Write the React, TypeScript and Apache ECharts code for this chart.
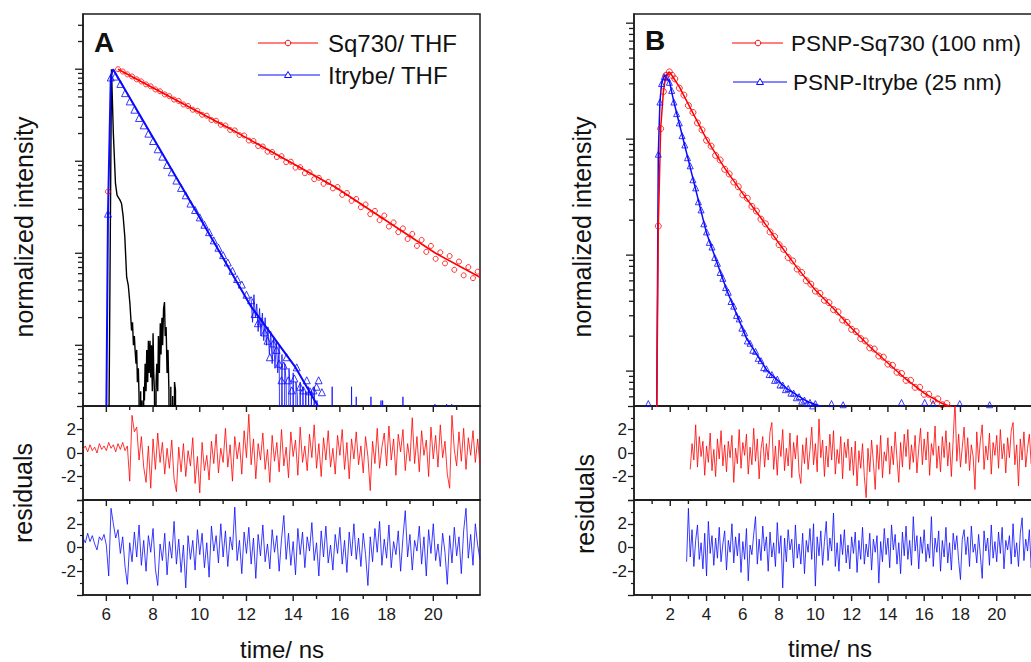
import React, { useEffect, useRef } from "react";
import * as echarts from "echarts";

// ================= DATA (intensities stored as log10 values) =================
// ---- Panel A : dyes in THF ----
const sq730ThfEarlyLog = [[6.07, -1.33]];
const sq730ThfStart = 6.5;
const sq730ThfStep = 0.2;
const sq730ThfLog = [
  0.0, -0.025, -0.056, -0.079, -0.11, -0.133, -0.165, -0.186, -0.22, -0.24,
  -0.274, -0.293, -0.33, -0.345, -0.383, -0.4, -0.44, -0.452, -0.495, -0.505,
  -0.552, -0.56, -0.604, -0.612, -0.66, -0.665, -0.715, -0.72, -0.775, -0.78,
  -0.835, -0.84, -0.895, -0.9, -0.955, -0.945, -1.01, -1.005, -1.07, -1.065,
  -1.13, -1.12, -1.195, -1.18, -1.245, -1.225, -1.295, -1.28, -1.365, -1.345,
  -1.43, -1.41, -1.5, -1.47, -1.575, -1.54, -1.64, -1.59, -1.71, -1.665,
  -1.77, -1.73, -1.845, -1.79, -1.92, -1.855, -1.985, -1.92, -2.06, -1.99,
  -2.11, -2.03, -2.18, -2.09, -2.24, -2.15, -2.27, -2.2,
];
const sq730ThfFitLog = [[6.5, 0], [11.5, -0.675], [15.8, -1.28], [20.1, -2.0], [22, -2.26]];

const itrybeThfEarlyLog = [[6.07, -1.57], [6.19, -0.09], [6.37, -0.08]];
const itrybeThfStart = 6.6;
const itrybeThfStep = 0.2;
const itrybeThfLog = [
  -0.16, -0.26, -0.35, -0.44, -0.53, -0.61, -0.7, -0.78, -0.87, -0.95,
  -1.04, -1.12, -1.21, -1.29, -1.37, -1.46, -1.53, -1.61, -1.69, -1.77,
  -1.86, -1.94, -2.02, -2.1, -2.19, -2.28, -2.34, -2.45,
];
const itrybeThfTailLog = [
  [12.2, -2.51], [12.35, -2.66], [12.49, -2.76], [12.63, -2.74], [12.78, -2.86], [12.9, -2.95],
  [13.0, -3.13], [13.15, -2.98], [13.29, -3.05], [13.4, -3.2], [13.5, -3.38], [13.6, -3.22],
  [13.72, -3.13], [13.79, -3.38], [13.94, -3.49], [14.05, -3.36], [14.15, -3.24], [14.3, -3.45],
  [14.44, -3.49], [14.58, -3.38], [14.72, -3.5], [14.87, -3.49], [15.0, -3.45], [15.09, -3.38], [15.23, -3.51],
];
const itrybeThfFitLog = [[6.0, -3.7], [6.07, -1.57], [6.19, -0.08], [6.29, 0], [10.04, -1.63], [12.2, -2.58], [14.1, -3.24], [15.15, -3.7]];
// raw decay tail (-6 = no counts in channel)
const itrybeThfRawLog = [
  [12.2, -2.5], [12.26, -2.75], [12.32, -2.45], [12.38, -2.7], [12.44, -2.55], [12.5, -2.85], [12.56, -2.6],
  [12.62, -2.9], [12.68, -2.65], [12.74, -2.95], [12.8, -2.7], [12.86, -3.0], [12.92, -2.8], [12.98, -3.1],
  [13.04, -2.85], [13.1, -3.2], [13.16, -2.9], [13.22, -3.25], [13.28, -2.95], [13.34, -3.3], [13.4, -3.0],
  [13.46, -6], [13.52, -3.1], [13.58, -6], [13.64, -3.2], [13.7, -3.4], [13.76, -6], [13.82, -3.25],
  [13.88, -3.5], [13.94, -6], [14.0, -3.3], [14.06, -6], [14.12, -3.4], [14.18, -3.55], [14.24, -6],
  [14.3, -3.4], [14.36, -6], [14.42, -3.45], [14.48, -6], [14.54, -3.5], [14.6, -6], [14.66, -3.45],
  [14.72, -6], [14.78, -3.5], [14.84, -6], [14.9, -3.45], [14.96, -6], [15.02, -3.6], [15.08, -6],
  [15.6, -6], [15.67, -3.45], [15.74, -6], [16.43, -6], [16.5, -3.45], [16.57, -6], [16.63, -6],
  [16.7, -3.56], [16.77, -6], [17.26, -6], [17.33, -3.56], [17.4, -6], [17.7, -6], [17.76, -3.6],
  [17.8, -6], [17.83, -3.6], [17.88, -6], [18.63, -6], [18.7, -3.56], [18.77, -6], [20.0, -6],
  [20.07, -3.64], [20.14, -6], [20.5, -6], [20.57, -3.64], [20.64, -6], [20.72, -6], [20.79, -3.64], [20.86, -6],
];
// instrument response (black)
const irfLog = [
  [6.05, -6], [6.22, 0], [6.3, -0.7], [6.39, -1.24], [6.46, -1.37], [6.58, -1.42], [6.65, -1.46],
  [6.72, -1.6], [6.79, -1.82], [6.87, -2.26], [6.94, -2.35], [7.01, -2.55], [7.08, -2.84], [7.12, -2.75],
  [7.16, -3.0], [7.2, -2.9], [7.23, -3.05], [7.27, -3.2], [7.3, -3.05], [7.33, -3.4], [7.37, -3.25],
  [7.4, -3.55], [7.43, -6], [7.47, -3.5], [7.5, -6], [7.53, -3.6], [7.57, -6], [7.6, -3.45], [7.63, -3.6],
  [7.66, -3.2], [7.7, -3.5], [7.73, -3.05], [7.77, -3.4], [7.8, -2.95], [7.83, -3.3], [7.87, -2.95],
  [7.9, -3.35], [7.93, -3.0], [7.97, -3.5], [8.0, -2.87], [8.03, -3.3], [8.06, -3.5], [8.1, -6],
  [8.13, -3.4], [8.16, -3.2], [8.2, -3.5], [8.23, -2.9], [8.27, -3.3], [8.31, -2.76], [8.34, -3.1],
  [8.38, -2.7], [8.41, -3.0], [8.45, -2.6], [8.49, -2.53], [8.52, -2.9], [8.56, -2.8], [8.6, -3.3],
  [8.64, -3.05], [8.68, -3.5], [8.72, -6], [8.76, -3.45], [8.8, -6], [8.84, -3.55], [8.88, -6],
  [8.92, -3.4], [8.96, -3.49], [8.98, -6],
];
const residualStep = 0.1;
const resSq730ThfStart = 5.0;
const resSq730Thf = [
  0.3, 0.6, 0.1, 0.7, 0.2, 0.5, 0.0, 0.8, 0.3, 0.6,
  0.2, 0.9, 0.4, 0.7, 0.1, 0.8, 0.3, 0.9, 0.2, 0.6,
  -2.4, 3.2, 1.8, 2.2, -0.6, 1.4, -1.2, -2.5, 0.6, -3.0,
  1.2, -1.4, 1.7, -0.8, 0.9, -1.8, 0.4, -1.3, 1.1, -2.2,
  -3.3, 0.5, -1.6, 0.8, -2.0, 0.2, -1.1, 1.3, -2.6, -0.3,
  -3.4, 0.9, -1.5, -0.2, -2.3, 1.0, -0.9, 1.6, -1.7, 0.4,
  -0.8, 2.1, -1.2, 0.7, -2.4, 1.4, -0.5, 0.9, -1.8, 1.9,
  -0.4, 3.3, -1.0, 1.2, -2.2, 0.8, -0.6, 1.7, -1.4, 0.3,
  -2.5, 1.5, -0.7, 0.9, -1.6, 2.0, -1.1, 0.5, -2.1, 1.8,
  -0.3, 1.1, -1.9, 2.2, -0.8, 0.6, -1.5, 1.6, -0.4, 2.4,
  -1.3, 0.8, -2.0, 1.3, -0.6, 1.9, -1.2, 0.4, -1.8, 1.5,
  -0.2, 2.0, -1.4, 0.9, -2.2, 1.2, -0.5, 1.8, -1.0, 0.6,
  -1.7, 1.4, -0.3, -3.2, 1.0, -0.9, 2.1, -1.3, 0.5, 1.7,
  -1.1, 2.3, -0.6, 1.2, -1.9, 1.6, 0.1, 2.0, -1.5, 0.8,
  -0.7, 3.0, -0.9, 1.4, -1.6, 1.9, -0.2, 1.1, -2.0, 2.2,
  -0.5, 1.5, -1.2, 2.4, -0.4, 1.0, -1.8, -3.0, 3.2, 0.3,
  -1.1, 1.8, -0.7, 2.1, -1.4, 1.3, -0.2, 1.9, -0.8, 1.2,
  -1.0,
];
const resItrybeThfStart = 5.0;
const resItrybeThf = [
  0.8, 0.4, 1.2, 0.5, 1.0, 0.3, -0.2, 0.9, 0.6, 1.1,
  0.2, -2.4, 3.3, 2.0, 0.8, 1.5, -0.5, 0.9, -1.6, -3.1,
  0.4, -1.2, 1.3, -0.8, 1.9, -1.5, 0.6, -2.0, 1.0, -0.4,
  1.6, -1.8, -3.2, 0.3, -1.1, 1.2, -2.3, 0.5, -0.9, 2.2,
  -1.4, 0.7, -2.1, 0.2, -3.4, 1.0, -1.0, 0.6, -1.9, 1.5,
  -0.6, 1.2, -1.7, 0.4, -2.5, 1.8, -0.3, 1.0, -1.3, 2.0,
  -0.8, 1.4, -1.6, 0.9, -0.2, 3.4, -1.1, 0.6, -2.2, 1.3,
  -0.5, 1.7, -1.4, 0.8, -2.6, 1.1, -0.7, 1.9, -1.2, 0.3,
  -1.8, 1.5, -0.4, 1.0, -2.0, 0.7, 2.7, -1.0, 1.2, -1.5,
  0.5, -2.3, 1.6, -0.6, 1.3, -1.7, 0.9, -0.3, 2.1, -1.1,
  0.4, -2.4, 1.4, -0.8, 1.8, -1.3, 0.2, -1.9, 1.1, -0.5,
  1.7, -1.4, 0.6, -2.1, 1.3, -0.7, 2.0, -1.0, 0.8, -1.6,
  1.2, -0.6, -3.2, 0.9, -1.2, 1.6, -0.4, 2.2, -1.5, 0.7,
  -0.9, 1.9, -1.7, 0.5, -0.6, 1.4, -2.0, 0.8, 3.1, -0.8,
  1.1, -1.9, 0.6, -0.3, 1.8, -1.4, 0.9, -2.4, 1.5, -0.5,
  2.0, -1.1, 0.3, -1.6, 1.2, -0.4, -3.1, 1.0, -1.3, 1.7,
  -0.7, 0.9, -2.2, 1.4, 3.3, -0.9, 1.1, -1.5, 2.0, 0.2,
  -1.0,
];

// ---- Panel B : nanoparticles ----
const psnpSq730EarlyLog = [[1.34, -1.75], [1.47, -0.91], [1.62, -0.59], [1.76, -0.45], [1.95, -0.42], [2.1, -0.45]];
const psnpSq730Start = 2.25;
const psnpSq730Step = 0.25;
const psnpSq730Log = [
  -0.48, -0.56, -0.62, -0.71, -0.77, -0.86, -0.92, -1.01, -1.06, -1.14,
  -1.18, -1.26, -1.3, -1.37, -1.41, -1.48, -1.51, -1.58, -1.62, -1.69,
  -1.73, -1.8, -1.84, -1.91, -1.95, -2.02, -2.05, -2.12, -2.15, -2.22,
  -2.25, -2.31, -2.33, -2.39, -2.41, -2.47, -2.49, -2.56, -2.58, -2.64,
  -2.66, -2.72, -2.74, -2.8, -2.81, -2.87, -2.88, -2.94, -2.95, -3.01,
  -3.02, -3.08, -3.08, -3.14, -3.14, -3.2, -3.2, -3.25, -3.24, -3.29,
  -3.28, -3.31,
];
const psnpSq730FitLog = [
  [1.25, -3.4], [1.34, -1.75], [1.47, -0.91], [1.62, -0.59], [1.76, -0.45], [1.95, -0.42], [2.13, -0.46],
  [2.5, -0.55], [3.0, -0.7], [4.0, -1.0], [5.0, -1.25], [6.0, -1.47], [7.0, -1.68], [8.0, -1.9],
  [9.0, -2.11], [10.0, -2.3], [11.0, -2.46], [12.0, -2.63], [13.0, -2.79], [14.0, -2.93], [15.0, -3.07],
  [16.0, -3.19], [17.0, -3.28], [17.7, -3.32],
];
const psnpItrybeEarlyLog = [[1.34, -1.13], [1.43, -0.68], [1.52, -0.52], [1.67, -0.46], [1.82, -0.47], [1.95, -0.51], [2.08, -0.58]];
const psnpItrybeStart = 2.2;
const psnpItrybeStep = 0.15;
const psnpItrybeLog = [
  -0.68, -0.78, -0.86, -0.97, -1.05, -1.16, -1.23, -1.35, -1.42, -1.54,
  -1.61, -1.73, -1.8, -1.89, -1.93, -2.02, -2.07, -2.15, -2.2, -2.28,
  -2.32, -2.4, -2.44, -2.52, -2.55, -2.63, -2.67, -2.74, -2.76, -2.82,
  -2.83, -2.89, -2.91, -2.97, -2.98, -3.03, -3.03, -3.08, -3.07, -3.12,
  -3.12, -3.16, -3.15, -3.19, -3.19, -3.23, -3.22, -3.26, -3.25, -3.28,
  -3.27, -3.3, -3.28,
];
const psnpItrybeBaseLog = [[0.79, -3.28], [10.89, -3.28], [11.53, -3.29], [14.75, -3.27], [16.03, -3.27], [16.49, -3.28], [17.96, -3.28], [19.61, -3.29]];
const psnpItrybeFitLog = [
  [1.25, -3.4], [1.34, -1.13], [1.43, -0.68], [1.52, -0.52], [1.67, -0.45], [1.95, -0.5], [2.2, -0.68],
  [4.0, -1.81], [5.11, -2.3], [6.21, -2.72], [7.31, -2.99], [8.41, -3.15], [9.51, -3.26], [10.4, -3.31],
];
const resPsnpSq730Start = 3.1;
const resPsnpSq730 = [
  -1.4, 0.8, -0.6, 2.4, -1.2, 1.4, -0.3, 1.0, -1.9,
  0.6, -0.8, 1.7, -1.5, 0.3, -2.0, 1.2, -0.5, 1.9, -1.1,
  0.7, -1.6, 1.0, -0.4, 1.5, -2.5, 0.4, -0.9, 2.0, -1.3,
  0.9, -0.2, 1.6, -1.8, 0.5, -1.0, 2.1, -0.7, 1.2, -2.2,
  0.3, 1.4, -1.2, 0.8, -0.6, 1.8, 2.6, -1.4, 0.6, -1.9,
  1.1, -0.3, 2.0, -1.5, 0.4, -1.1, 1.7, -2.1, 0.9, -0.5,
  1.5, -1.7, -2.6, 0.7, -0.9, 1.3, -1.4, 0.2, 2.2, -1.0,
  0.8, -1.6, 2.9, -0.4, 1.1, -2.0, 0.6, -1.2, 1.6, -0.6,
  1.9, -1.8, 0.3, -0.9, 1.4, -2.2, 0.9, -0.4, 1.2, -1.5,
  0.5, -1.9, 1.0, -2.8, 0.2, -1.3, 0.8, -2.0, -3.8, 0.4,
  -1.6, 1.1, -0.8, -3.1, 0.7, -1.4, 1.5, -2.1, 0.1, -0.7,
  1.3, -1.8, 0.6, -1.0, 1.8, -0.5, -2.5, 0.9, -1.2, 1.6,
  -0.3, 2.0, -1.4, 0.7, -0.8, 1.5, -1.7, 0.4, 2.1, -1.0,
  1.2, -0.6, 1.8, -1.9, 0.8, -0.2, 2.3, -1.3, 0.6, -1.6,
  1.4, -0.4, 1.9, -1.1, 0.9, -2.0, 1.2, 4.5, -0.7, 1.6,
  -1.2, 0.5, 2.2, -0.9, 1.3, -1.5, 0.7, -0.3, -3.1, 1.8,
  -0.8, 1.1, 2.4, -1.4, 0.6, -0.6, 1.7, -1.8, 0.9, -0.2,
  1.5, -1.3, 2.0, -0.5, 0.8, -1.7, 1.3, -0.4, 1.9, 2.6,
  -1.0, 0.7, -2.8, 1.2, -0.6, 1.8, -1.2, 0.4, 1.6, -0.9,
  0.5,
];
const resPsnpItrybeStart = 2.9;
const resPsnpItrybe = [
  -1.2, 3.3, -0.8, 1.5, -1.6, 0.6, 1.9, -1.0, 0.4, -1.8, 1.2,
  -2.4, 2.2, -0.5, 1.0, -1.5, 0.8, -0.9, 1.7, -1.2, 0.3,
  1.4, -1.9, 0.6, -0.4, 2.0, -1.3, 0.9, -0.7, 1.2, -2.1,
  0.5, -1.0, 1.6, -2.8, 0.2, -0.6, 1.1, 2.6, -1.4, 0.7,
  -1.1, 1.8, -0.3, 0.9, -2.0, 1.3, -0.8, 0.4, -1.6, 2.1,
  -0.5, 1.0, -3.4, 0.8, -1.2, 1.5, -0.2, 0.7, -1.7, 1.9,
  -0.9, 0.3, -1.4, 1.2, -2.2, 0.6, -0.4, 1.6, -1.0, 2.0,
  -3.25, 0.9, -0.7, 1.4, -1.5, 0.5, 2.2, -1.1, 0.8, -0.3,
  2.9, -1.6, 0.4, -2.0, 1.1, -0.6, 1.5, -1.3, 0.2, -1.8,
  0.9, -0.5, 1.3, -2.1, 0.6, -1.0, 1.7, -1.4, 0.3, -0.8,
  1.2, -1.9, 0.7, -0.4, 1.0, -3.0, 0.5, -1.2, 1.6, -0.6,
  0.8, -1.7, 1.9, -0.2, 1.1, -1.4, 0.4, -2.2, 1.3, -0.7,
  1.8, -1.0, 0.6, -1.5, 2.6, -0.3, 1.0, -1.8, 0.9, -0.5,
  1.5, -1.2, 0.3, -0.9, 2.6, -1.6, 0.8, -0.4, 1.4, -2.0,
  0.6, -0.8, 1.7, -1.3, 0.4, -1.9, 1.2, -0.2, 1.0, -1.1,
  -2.7, 0.7, 1.5, -0.6, 0.9, -1.6, 1.8, -0.4, 0.3, -1.3,
  1.1, -0.7, -2.6, 1.4, -0.3, 0.8, -1.5, 1.9, -0.9, 0.5,
  -1.2, 1.3, -0.5, 1.7, -1.8, 0.6, -0.2, 1.0, -1.4, 2.0,
  -0.8, 0.4, -1.6, 1.2, 2.5, -1.1, 0.7, -0.3, 1.5, -1.7,
  0.4,
];

// ---- axes / ticks ----
const xRangeA = [5, 22];
const xRangeB = [0, 22];
const logRangeA = [0.000219, 3.98];
const logRangeB = [0.0005, 1.2];
const resRange = [-4, 4];
const xMajorA = [6, 8, 10, 12, 14, 16, 18, 20];
const xMinorA = [7, 9, 11, 13, 15, 17, 19, 21];
const xMajorB = [2, 4, 6, 8, 10, 12, 14, 16, 18, 20, 22];
const xMinorB = [1, 3, 5, 7, 9, 11, 13, 15, 17, 19, 21];
const logMajor = [0.001, 0.01, 0.1, 1];
const logMantissas = [2, 3, 4, 5, 6, 7, 8, 9];
const logDecades = [0.0001, 0.001, 0.01, 0.1, 1];

// ================= helpers =================
const FONT = 'Arial, "Liberation Sans", Helvetica, sans-serif';
const INK = "#1c1c1c";
const RED = "#ff0000";
const BLUE = "#0a0aff";

const p10 = (L: number) => Math.pow(10, L);
const evenly = (x0: number, dx: number, logs: number[]) =>
  logs.map((L, i) => [+(x0 + i * dx).toFixed(3), p10(L)]);
const pairs = (arr: number[][]) => arr.map(([x, L]) => [x, p10(L)]);
const resid = (x0: number, vals: number[]) =>
  vals.map((v, i) => [+(x0 + i * residualStep).toFixed(3), v]);
const logMinor = (lo: number, hi: number) => {
  const out: number[] = [];
  logDecades.forEach((d) => logMantissas.forEach((m) => {
    const v = m * d;
    if (v > lo && v < hi) out.push(v);
  }));
  return out;
};

const GRIDS = [
  { left: 83, top: 14, width: 397, height: 392 },
  { left: 83, top: 406, width: 397, height: 94 },
  { left: 83, top: 500, width: 397, height: 95 },
  { left: 634, top: 14, width: 399, height: 392 },
  { left: 634, top: 406, width: 399, height: 94 },
  { left: 634, top: 500, width: 399, height: 95 },
];

function xTicks(gi: number, yBottom: number, majors: number[], minors: number[]) {
  return {
    type: "custom", xAxisIndex: gi, yAxisIndex: gi, silent: true, clip: false, z: 6,
    data: [...majors.map((v) => [v, yBottom, 6]), ...minors.map((v) => [v, yBottom, 4])],
    renderItem: (_p: any, api: any) => {
      const pt = api.coord([api.value(0), api.value(1)]);
      const len = api.value(2);
      return { type: "line", shape: { x1: pt[0], y1: pt[1], x2: pt[0], y2: pt[1] + len }, style: { stroke: INK, lineWidth: 1.4 } };
    },
  };
}
function yLogTicks(gi: number, xLeft: number, lo: number, hi: number) {
  return {
    type: "custom", xAxisIndex: gi, yAxisIndex: gi, silent: true, clip: false, z: 6,
    data: [...logMajor.map((v) => [xLeft, v, 8]), ...logMinor(lo, hi).map((v) => [xLeft, v, 5])],
    renderItem: (_p: any, api: any) => {
      const pt = api.coord([api.value(0), api.value(1)]);
      const len = api.value(2);
      return { type: "line", shape: { x1: pt[0] - len, y1: pt[1], x2: pt[0], y2: pt[1] }, style: { stroke: INK, lineWidth: 1.3 } };
    },
  };
}
const lineS = (gi: number, data: any[], color: string, width: number, z = 3) => ({
  type: "line", xAxisIndex: gi, yAxisIndex: gi, data, showSymbol: false, symbol: "none",
  lineStyle: { color, width }, silent: true, z, clip: true,
});
const scatterS = (gi: number, data: any[], color: string, symbol: string, size: number) => ({
  type: "scatter", xAxisIndex: gi, yAxisIndex: gi, data, symbol, symbolSize: size, silent: true, z: 4, clip: true,
  itemStyle: { color: "rgba(255,255,255,0)", borderColor: color, borderWidth: 1 },
});

function text(x: number, y: number, t: string, size: number, extra: any = {}) {
  return {
    type: "text", x, y, rotation: extra.rotation || 0, z: 100,
    style: { text: t, fontSize: size, fontFamily: FONT, fill: "#111", align: extra.align || "center", verticalAlign: "middle", fontWeight: extra.weight || "normal" },
  };
}
function legendRow(x1: number, x2: number, y: number, mx: number, color: string, kind: string, tx: number, label: string, size: number) {
  const els: any[] = [
    { type: "line", shape: { x1, y1: y, x2, y2: y }, style: { stroke: color, lineWidth: 1 }, z: 100 },
  ];
  if (kind === "circle") {
    els.push({ type: "circle", shape: { cx: mx, cy: y, r: 2.8 }, style: { fill: "#fff", stroke: color, lineWidth: 1 }, z: 101 });
  } else {
    els.push({ type: "polygon", shape: { points: [[mx, y - 3.5], [mx - 3.5, y + 2.5], [mx + 3.5, y + 2.5]] }, style: { fill: "#fff", stroke: color, lineWidth: 1 }, z: 101 });
  }
  els.push(text(tx, y, label, size, { align: "left" }));
  return els;
}

function buildOption() {
  const xAxis = GRIDS.map((_g, i) => {
    const r = i < 3 ? xRangeA : xRangeB;
    const labelled = i === 2 || i === 5;
    return {
      type: "value", gridIndex: i, min: r[0], max: r[1], position: "bottom",
      splitNumber: i < 3 ? 8 : 11, minInterval: 2, maxInterval: 2,
      axisLine: { show: true, onZero: false, lineStyle: { color: INK, width: 1.5 } },
      axisTick: { show: false }, minorTick: { show: false },
      axisLabel: { show: labelled, fontSize: 17, color: INK, fontFamily: FONT, margin: 11, showMinLabel: false, showMaxLabel: false },
      splitLine: { show: false }, minorSplitLine: { show: false },
    };
  });
  const yAxis = GRIDS.map((_g, i) => {
    if (i === 0 || i === 3) {
      const r = i === 0 ? logRangeA : logRangeB;
      return {
        type: "log", logBase: 10, gridIndex: i, min: r[0], max: r[1], position: "left",
        axisLine: { show: true, onZero: false, lineStyle: { color: INK, width: 1.5 } },
        axisTick: { show: false }, minorTick: { show: false }, axisLabel: { show: false },
        splitLine: { show: false }, minorSplitLine: { show: false },
      };
    }
    return {
      type: "value", gridIndex: i, min: resRange[0], max: resRange[1], interval: 2, position: "left",
      axisLine: { show: true, onZero: false, lineStyle: { color: INK, width: 1.5 } },
      axisTick: { show: true, length: 6, lineStyle: { color: INK, width: 1.3 } },
      minorTick: { show: true, splitNumber: 2, length: 3, lineStyle: { color: INK, width: 1.2 } },
      axisLabel: { fontSize: 17, color: INK, fontFamily: FONT, margin: 7, showMinLabel: false, showMaxLabel: false },
      splitLine: { show: false }, minorSplitLine: { show: false },
    };
  });

  const series: any[] = [
    // ---- A main ----
    lineS(0, pairs(irfLog), "#000", 1.4, 2),
    lineS(0, pairs(itrybeThfRawLog), BLUE, 0.8, 2),
    lineS(0, pairs(itrybeThfFitLog), BLUE, 2, 3),
    lineS(0, pairs(sq730ThfFitLog), RED, 1.6, 3),
    scatterS(0, [...pairs(sq730ThfEarlyLog), ...evenly(sq730ThfStart, sq730ThfStep, sq730ThfLog)], RED, "circle", 5),
    scatterS(0, [...pairs(itrybeThfEarlyLog), ...evenly(itrybeThfStart, itrybeThfStep, itrybeThfLog), ...pairs(itrybeThfTailLog)], BLUE, "triangle", 7),
    // ---- A residuals ----
    lineS(1, resid(resSq730ThfStart, resSq730Thf), RED, 0.8, 2),
    lineS(2, resid(resItrybeThfStart, resItrybeThf), BLUE, 0.8, 2),
    // ---- B main ----
    lineS(3, pairs(psnpItrybeFitLog), BLUE, 1.5, 3),
    lineS(3, pairs(psnpSq730FitLog), RED, 1.5, 3),
    scatterS(3, [...pairs(psnpItrybeEarlyLog), ...evenly(psnpItrybeStart, psnpItrybeStep, psnpItrybeLog), ...pairs(psnpItrybeBaseLog)], BLUE, "triangle", 6),
    scatterS(3, [...pairs(psnpSq730EarlyLog), ...evenly(psnpSq730Start, psnpSq730Step, psnpSq730Log)], RED, "circle", 6),
    // ---- B residuals ----
    lineS(4, resid(resPsnpSq730Start, resPsnpSq730), RED, 0.8, 2),
    lineS(5, resid(resPsnpItrybeStart, resPsnpItrybe), BLUE, 0.8, 2),
    // ---- ticks ----
    xTicks(0, logRangeA[0], xMajorA, xMinorA),
    xTicks(1, resRange[0], xMajorA, xMinorA),
    xTicks(2, resRange[0], xMajorA, xMinorA),
    xTicks(3, logRangeB[0], xMajorB, xMinorB),
    xTicks(4, resRange[0], xMajorB, xMinorB),
    xTicks(5, resRange[0], xMajorB, xMinorB),
    yLogTicks(0, xRangeA[0], logRangeA[0], logRangeA[1]),
    yLogTicks(3, xRangeB[0], logRangeB[0], logRangeB[1]),
  ];

  const graphic: any[] = [
    text(104, 42, "A", 28, { weight: "bold" }),
    text(655, 40, "B", 28, { weight: "bold" }),
    ...legendRow(258, 318, 43, 288, RED, "circle", 328, "Sq730/ THF", 24),
    ...legendRow(258, 320, 75, 288, BLUE, "triangle", 328, "Itrybe/ THF", 24),
    ...legendRow(732, 783, 43, 758, RED, "circle", 791, "PSNP-Sq730 (100 nm)", 22.5),
    ...legendRow(733, 787, 82, 760, BLUE, "triangle", 793, "PSNP-Itrybe (25 nm)", 22.5),
    text(24, 227, "normalized intensity", 25, { rotation: Math.PI / 2 }),
    text(23, 493, "residuals", 25, { rotation: Math.PI / 2 }),
    text(282, 649, "time/ ns", 24),
    text(582, 227, "normalized intensity", 25, { rotation: Math.PI / 2 }),
    text(585, 504, "residuals", 25, { rotation: Math.PI / 2 }),
    text(830, 648, "time/ ns", 24),
  ];

  return {
    animation: false,
    backgroundColor: "#ffffff",
    grid: GRIDS.map((g) => ({ ...g, show: true, borderColor: INK, borderWidth: 1.5, backgroundColor: "transparent", containLabel: false, outerBoundsMode: "none" })),
    xAxis,
    yAxis,
    series,
    graphic: { elements: graphic },
  };
}

export default function App() {
  const ref = useRef<HTMLDivElement>(null);
  useEffect(() => {
    if (!ref.current) return;
    const chart = echarts.init(ref.current, null, { renderer: "svg" });
    chart.setOption(buildOption() as any);
    return () => chart.dispose();
  }, []);
  return (
    <div
      ref={ref}
      style={{ position: "fixed", left: 0, top: 0, width: 1031, height: 662, background: "#fff" }}
    />
  );
}
